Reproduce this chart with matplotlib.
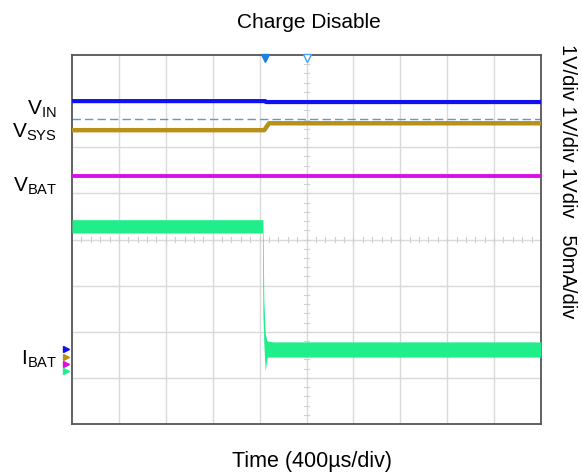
import matplotlib
matplotlib.use("Agg")
import matplotlib.pyplot as plt

plt.rcParams['font.family'] = ['Liberation Sans', 'DejaVu Sans']

# scope screen in divisions: 10 across, 8 high
vin_t = [0.0, 4.12, 4.14, 10.0]
vin_v = [7.00, 7.00, 6.98, 6.98]

vsys_t = [0.0, 4.10, 4.20, 10.0]
vsys_v = [6.37, 6.37, 6.52, 6.52]

vbat_t = [0.0, 10.0]
vbat_v = [5.38, 5.38]

ref_t = [0.0, 10.0]
ref_v = [6.61, 6.61]

# green current trace drawn as an envelope (noisy band)
ibat_t = [0.0, 4.06, 4.07, 4.09, 4.12, 4.16, 4.30, 10.0]
ibat_hi = [4.43, 4.43, 4.43, 2.70, 1.95, 1.80, 1.78, 1.78]
ibat_lo = [4.14, 4.14, 2.40, 1.75, 1.15, 1.45, 1.45, 1.45]

trig_pos = 4.12
center_pos = 5.0

left_labels = [("V$_\\mathregular{IN}$", 6.82), ("V$_\\mathregular{SYS}$", 6.33),
               ("V$_\\mathregular{BAT}$", 5.15), ("I$_\\mathregular{BAT}$", 1.40)]
scale_text = "1V/div 1V/div 1Vdiv   50mA/div"

fig = plt.figure(figsize=(5.82, 4.72), dpi=100)
ax = fig.add_axes([72/582, 48/472, 469/582, 369/472])
ax.set_xlim(0, 10)
ax.set_ylim(0, 8)

# graticule
for i in range(1, 10):
	ax.axvline(i, color='#dadada', lw=1.0, zorder=0)
for j in range(1, 8):
	ax.axhline(j, color='#dadada', lw=1.0, zorder=0)
for k in range(1, 50):
	ax.plot([k*0.2, k*0.2], [3.95, 4.05], color='#d0d0d0', lw=0.8, zorder=0)
for k in range(1, 40):
	ax.plot([4.95, 5.05], [k*0.2, k*0.2], color='#d0d0d0', lw=0.8, zorder=0)

ax.plot(ref_t, ref_v, color='#5b9bd5', lw=1.0, dashes=(6, 3), zorder=2)
ax.plot(vin_t, vin_v, color='#1010f0', lw=3.0, zorder=3)
ax.plot(vsys_t, vsys_v, color='#b8901a', lw=3.2, zorder=3)
ax.plot(vbat_t, vbat_v, color='#d810e8', lw=2.8, zorder=3)
ax.fill_between(ibat_t, ibat_lo, ibat_hi, color='#20ee8a', lw=0, zorder=3)

# trigger markers along the top edge
ax.plot([trig_pos], [7.93], marker='v', ms=6, color='#1e7fe0', clip_on=False, zorder=5)
ax.plot([center_pos], [7.93], marker='v', ms=6, mfc='white', mec='#4aa0f0', clip_on=False, zorder=5)

# channel markers on the left edge
for yy, c in zip([1.62, 1.45, 1.30, 1.15], ['#1010f0', '#b8901a', '#d810e8', '#20ee8a']):
	ax.plot([-0.12], [yy], marker='>', ms=4, color=c, clip_on=False, zorder=5)

for s in ax.spines.values():
	s.set_color('#555555')
	s.set_linewidth(1.3)
ax.set_xticks([])
ax.set_yticks([])

for txt, yy in left_labels:
	ax.text(-0.32, yy, txt, ha='right', va='center', fontsize=15, clip_on=False)

fig.text(309/582, 1 - 23/472, "Charge Disable", ha='center', va='center', fontsize=15)
fig.text(312/582, 1 - 462/472, "Time (400µs/div)", ha='center', va='center', fontsize=15.5)
fig.text(568/582, 1 - 44/472, scale_text, rotation=270, ha='center', va='top', fontsize=14.5)

fig.savefig("out.png", dpi=100)
